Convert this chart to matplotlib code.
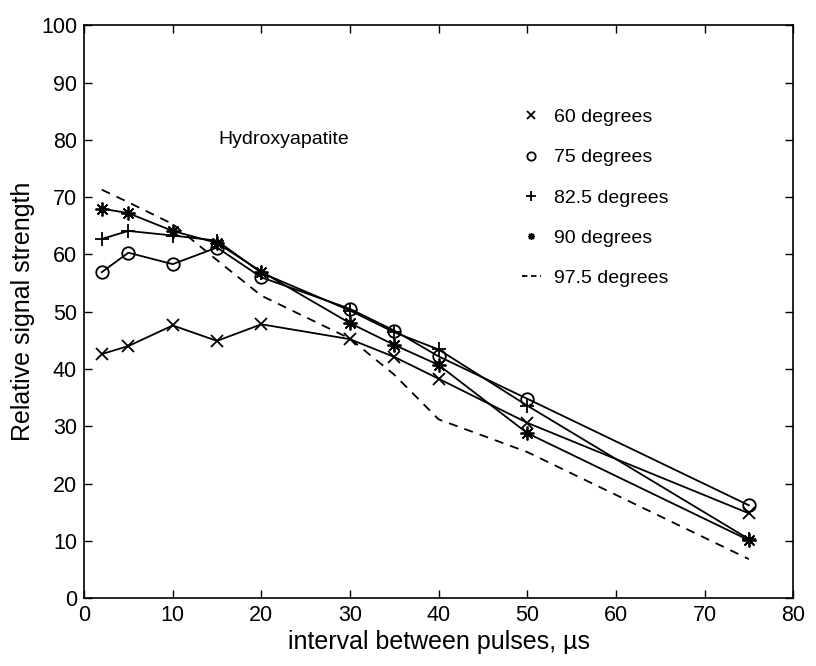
import matplotlib.pyplot as plt
from matplotlib.lines import Line2D

plt.rcParams['font.family'] = ['Liberation Sans', 'DejaVu Sans']

# Pulse intervals (microseconds)
interval = [2, 5, 10, 15, 20, 30, 35, 40, 50, 75]

# Relative signal strength for each flip angle
deg60 = [42.6, 44.0, 47.6, 44.9, 47.8, 45.2, 42.1, 38.3, 30.6, 14.8]
deg75 = [56.9, 60.3, 58.3, 61.2, 56.0, 50.5, 46.7, 42.2, 34.8, 16.2]
deg82 = [62.7, 64.1, 63.3, 62.4, 56.8, 50.2, 46.4, 43.4, 33.6, 10.3]
deg90 = [68.0, 67.2, 64.1, 62.0, 57.0, 48.0, 44.2, 40.7, 28.8, 10.1]
deg97 = [71.3, 69.1, 65.3, 59.0, 52.8, 45.3, 39.0, 31.2, 25.5, 6.8]

labels = ['60 degrees', '75 degrees', '82.5 degrees', '90 degrees', '97.5 degrees']

fig = plt.figure(figsize=(8.16, 6.66), dpi=100)
ax = fig.add_axes([0.103, 0.102, 0.869, 0.860])

lw = 1.3
ax.plot(interval, deg60, color='black', lw=lw, marker='x', ms=9, mew=1.3)
ax.plot(interval, deg75, color='black', lw=lw, marker='o', ms=9, mfc='none', mew=1.3)
ax.plot(interval, deg82, color='black', lw=lw, marker='+', ms=10, mew=1.3)
ax.plot(interval, deg90, color='black', lw=lw, marker=(8, 2, 0), ms=10, mew=1.3)
ax.plot(interval, deg97, color='black', lw=lw, ls=(0, (5, 4)))

ax.text(15.1, 80, 'Hydroxyapatite', fontsize=14, va='center', ha='left')

# legend: markers only, no connecting lines
handles = [
    Line2D([], [], color='black', ls='none', marker='x', ms=6, mew=1.3),
    Line2D([], [], color='black', ls='none', marker='o', ms=6, mfc='none', mew=1.3),
    Line2D([], [], color='black', ls='none', marker='+', ms=7, mew=1.3),
    Line2D([], [], color='black', ls='none', marker=(8, 2, 0), ms=5, mew=1.0),
    Line2D([], [], color='black', lw=1.3, ls=(0, (3, 2))),
]
ax.legend(handles, labels, loc='upper left', bbox_to_anchor=(0.607, 0.868),
          frameon=False, fontsize=14, handlelength=0.95, handletextpad=0.66,
          labelspacing=1.16, borderaxespad=0)

ax.set_xlim(0, 80)
ax.set_ylim(0, 100)
ax.set_xticks(range(0, 81, 10))
ax.set_yticks(range(0, 101, 10))
ax.tick_params(direction='in', top=True, right=True, length=6, width=1.0,
               labelsize=15.5, pad=5)
for s in ax.spines.values():
    s.set_linewidth(1.2)

ax.set_xlabel('interval between pulses, \u00b5s', fontsize=18, labelpad=3)
ax.set_ylabel('Relative signal strength', fontsize=18, labelpad=4)

fig.savefig('out.png', dpi=100)
